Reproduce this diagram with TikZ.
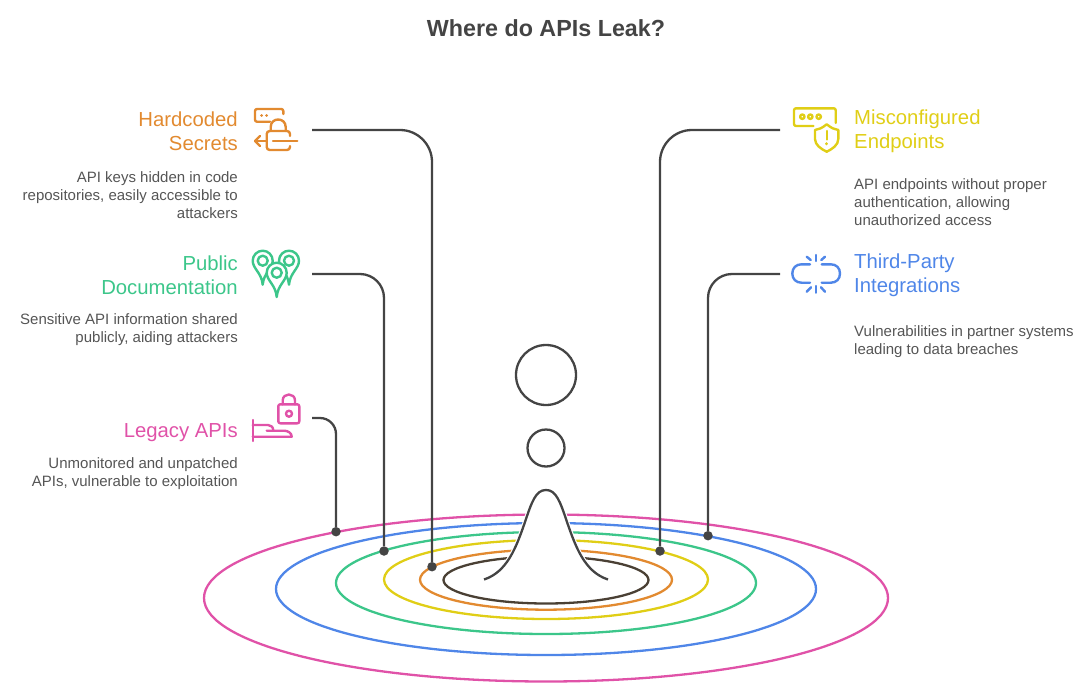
\documentclass[tikz,border=0pt]{standalone}
\usepackage{fontspec}
\setmainfont{Liberation Sans}
\usepackage{tikz}
\usetikzlibrary{positioning, arrows.meta, calc}
\definecolor{hardcolor}{RGB}{226,138,48}
\definecolor{misccolor}{RGB}{224,206,22}
\definecolor{partycolor}{RGB}{79,134,232}
\definecolor{docscolor}{RGB}{60,198,138}
\definecolor{legacycolor}{RGB}{224,82,168}
\definecolor{inkcolor}{RGB}{68,68,68}
\definecolor{textcolor}{RGB}{85,85,85}
\definecolor{corecolor}{RGB}{74,64,52}
\tikzset{
    headlabel/.style={font=\fontsize{20.3}{24}\selectfont, inner sep=0pt},
    desclabel/.style={font=\fontsize{15}{18}\selectfont, text=textcolor, inner sep=0pt},
    ring/.style={line width=2.3pt},
    leader/.style={line width=2.3pt, inkcolor},
    leakdot/.style={circle, fill=inkcolor, inner sep=0pt, minimum size=9.5pt},
    drop/.style={draw=inkcolor, circle, line width=2.3pt, inner sep=0pt},
    icon/.style={line width=2.4pt, line cap=round, line join=round}
}

\begin{document}
\begin{tikzpicture}[x=1pt, y=-1pt]
    \useasboundingbox (0,0) rectangle (1092,696);

    % Titre
    \node[font=\fontsize{23.3}{28}\selectfont\bfseries, text=inkcolor, inner sep=0pt] (titlelabel) at (546,28) {Where do APIs Leak?};

    % Anneaux
    \draw[ring, legacycolor] (546,598) ellipse [x radius=342, y radius=83.5];
    \draw[ring, partycolor] (546,589) ellipse [x radius=270, y radius=66];
    \draw[ring, docscolor] (546,583) ellipse [x radius=210, y radius=51];
    \draw[ring, misccolor] (546,579.5) ellipse [x radius=162, y radius=39.5];
    \draw[ring, hardcolor] (546,579.7) ellipse [x radius=126, y radius=30];
    \draw[ring, corecolor] (546,580) ellipse [x radius=102.5, y radius=23.5];

    % Pic de la goutte
    \draw[line width=2.3pt, inkcolor, fill=white, preaction={draw=white, line width=4.5pt}] (484,579.5) .. controls (507,572) and (516,548) .. (525,522) .. controls (532,501) and (536,490) .. (546,490) .. controls (556,490) and (560,501) .. (567,522) .. controls (576,548) and (585,572) .. (608,579.5);

    % Gouttes
    \node[drop, minimum size=60pt] (bigdrop) at (546,375) {};
    \node[drop, minimum size=37pt] (smalldrop) at (546,448) {};

    % Points sur les anneaux
    \node[leakdot] (hardcodeddot) at (432,566.7) {};
    \node[leakdot] (docsdot) at (384,551) {};
    \node[leakdot] (legacydot) at (336,531.7) {};
    \node[leakdot] (misconfdot) at (660,551) {};
    \node[leakdot] (partydot) at (708,535.7) {};

    % Lignes
    \coordinate (hardcodedstart) at (312,130);
    \coordinate (docsstart) at (312,274);
    \coordinate (legacystart) at (312,418);
    \coordinate (misconfstart) at (780,130);
    \coordinate (partystart) at (780,274);
    \draw[leader, rounded corners=32pt] (hardcodedstart) -| (hardcodeddot);
    \draw[leader, rounded corners=24pt] (docsstart) -| (docsdot);
    \draw[leader, rounded corners=16pt] (legacystart) -| (legacydot);
    \draw[leader, rounded corners=32pt] (misconfstart) -| (misconfdot);
    \draw[leader, rounded corners=24pt] (partystart) -| (partydot);

    % === Colonne gauche ===
    % Hardcoded Secrets
    \node[headlabel, text=hardcolor, align=right, anchor=east] (hardcodedlabel) at (238,131) {Hardcoded\\Secrets};
    \node[desclabel, align=right, anchor=east] (hardcodeddesc) at (238,195) {API keys hidden in code\\repositories, easily accessible to\\attackers};
    \draw[icon, hardcolor, rounded corners=2pt] (270,121.7) -- (255,121.7) -- (255,109) -- (283.3,109) -- (283.3,114);
    \draw[icon, hardcolor, line width=3pt] (261.5,115) -- (261.6,115);
    \draw[icon, hardcolor, line width=3pt] (266.5,115) -- (266.6,115);
    \draw[icon, hardcolor] (270.7,131) -- (270.7,127) .. controls (270.7,117) and (285.7,117) .. (285.7,127) -- (285.7,131);
    \draw[icon, hardcolor, rounded corners=3pt] (290,136) -- (290,131) -- (266.7,131) -- (266.7,150) -- (290,150) -- (290,146);
    \draw[icon, hardcolor] (273,141) -- (297.3,141);
    \draw[icon, hardcolor] (267,141) -- (255,141);
    \draw[icon, hardcolor] (260,136) -- (255,141) -- (260,146);

    % Public Documentation
    \node[headlabel, text=docscolor, align=right, anchor=east] (docslabel) at (238,275) {Public\\Documentation};
    \node[desclabel, align=right, anchor=east] (docsdesc) at (238,330) {Sensitive API information shared\\publicly, aiding attackers};
    \draw[icon, docscolor, fill=white] (252.7,260.7) .. controls (252.7,255.2) and (257.2,250.7) .. (262.7,250.7) .. controls (268.2,250.7) and (272.7,255.2) .. (272.7,260.7) .. controls (272.7,268.7) and (263.7,272.7) .. (262.7,284.7) .. controls (261.7,272.7) and (252.7,268.7) .. cycle;
    \draw[icon, docscolor, fill=white] (279,260.7) .. controls (279,255.2) and (283.5,250.7) .. (289,250.7) .. controls (294.5,250.7) and (299,255.2) .. (299,260.7) .. controls (299,268.7) and (290,272.7) .. (289,284.7) .. controls (288,272.7) and (279,268.7) .. cycle;
    \draw[icon, docscolor, fill=white] (266.7,272.7) .. controls (266.7,267.2) and (271.2,262.7) .. (276.7,262.7) .. controls (282.2,262.7) and (286.7,267.2) .. (286.7,272.7) .. controls (286.7,280.7) and (277.7,284.7) .. (276.7,297) .. controls (275.7,284.7) and (266.7,280.7) .. cycle;
    \draw[icon, docscolor] (262.7,260.7) circle (5);
    \draw[icon, docscolor] (289,260.7) circle (5);
    \draw[icon, docscolor] (276.7,272.7) circle (5);

    % Legacy APIs
    \node[headlabel, text=legacycolor, anchor=east] (legacylabel) at (238,432.5) {Legacy APIs};
    \node[desclabel, align=right, anchor=east] (legacydesc) at (238,474) {Unmonitored and unpatched\\APIs, vulnerable to exploitation};
    \draw[icon, legacycolor, rounded corners=2pt] (278.3,404.3) rectangle (299.3,423.3);
    \draw[icon, legacycolor] (282.7,404.3) -- (282.7,400.5) .. controls (282.7,392.5) and (295,392.5) .. (295,400.5) -- (295,404.3);
    \draw[icon, legacycolor] (289,413.7) circle (3);
    \draw[icon, legacycolor] (252.7,420) -- (252.7,441);
    \draw[icon, legacycolor] (252.7,425) -- (268,425) .. controls (271,425) and (273.3,427) .. (273.3,430.7);
    \draw[icon, legacycolor] (266.7,430.7) -- (284,430.7) .. controls (288,430.7) and (291.7,433) .. (291.7,436.7) -- (252.7,436.7);

    % === Colonne droite ===
    % Misconfigured Endpoints
    \node[headlabel, text=misccolor, align=left, anchor=west] (misconflabel) at (854,131) {Misconfigured\\Endpoints};
    \node[desclabel, align=left, anchor=west] (misconfdesc) at (854,202) {API endpoints without proper\\authentication, allowing\\unauthorized access};
    \draw[icon, misccolor, rounded corners=2pt] (813.3,126) -- (794,126) -- (794,108.3) -- (835.7,108.3) -- (835.7,123);
    \draw[icon, misccolor] (802.3,116.7) circle (2.2);
    \draw[icon, misccolor] (810.3,116.7) circle (2.2);
    \draw[icon, misccolor] (818.7,116.7) circle (2.2);
    \draw[icon, misccolor] (826.7,124.3) .. controls (822,128) and (819,129.5) .. (815,130) -- (815,139) .. controls (815,145) and (821,149) .. (826.7,151.7) .. controls (832.4,149) and (838.3,145) .. (838.3,139) -- (838.3,130) .. controls (834.3,129.5) and (831.4,128) .. cycle;
    \draw[icon, misccolor] (826.7,131) -- (826.7,139.5);
    \draw[icon, misccolor, line width=3pt] (826.7,143.7) -- (826.7,143.8);

    % Third-Party Integrations
    \node[headlabel, text=partycolor, align=left, anchor=west] (partylabel) at (854,275) {Third-Party\\Integrations};
    \node[desclabel, align=left, anchor=west] (partydesc) at (854,342) {Vulnerabilities in partner systems\\leading to data breaches};
    \draw[icon, partycolor] (810,264.3) -- (801.5,264.3) .. controls (796,264.3) and (792.3,268) .. (792.3,273.5) .. controls (792.3,279) and (796,282.7) .. (801.5,282.7) -- (810,282.7);
    \draw[icon, partycolor] (821.7,264.3) -- (830.8,264.3) .. controls (836.3,264.3) and (840,268) .. (840,273.5) .. controls (840,279) and (836.3,282.7) .. (830.8,282.7) -- (821.7,282.7);
    \draw[icon, partycolor] (816,255) -- (816,261);
    \draw[icon, partycolor] (806.7,256.7) -- (810.7,260);
    \draw[icon, partycolor] (825,256.7) -- (821.3,260);
    \draw[icon, partycolor] (816,286) -- (816,292.7);
    \draw[icon, partycolor] (806.7,291.7) -- (811,287.3);
    \draw[icon, partycolor] (825,291.7) -- (821,287.3);
\end{tikzpicture}
\end{document}
